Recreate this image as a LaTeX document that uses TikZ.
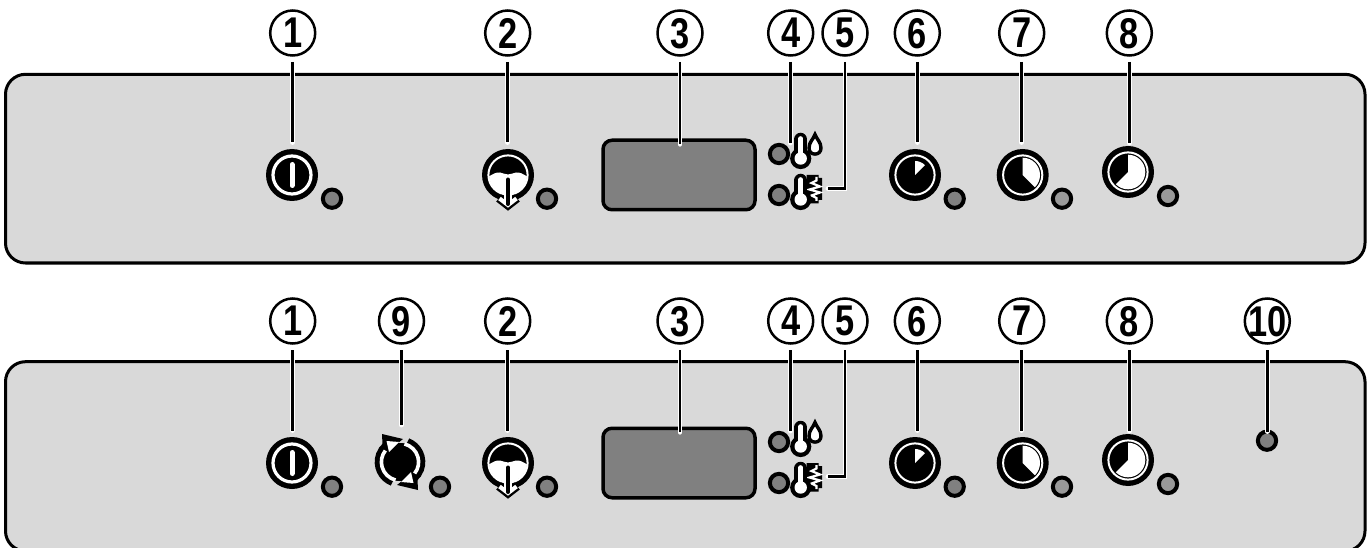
\documentclass[tikz,border=0pt]{standalone}
\usepackage{graphicx}
\usepackage{fontspec}
\setmainfont{Liberation Sans}
\usetikzlibrary{calc}
\definecolor{panelgray}{HTML}{D9D9D9}
\definecolor{ledgray}{HTML}{808080}
\definecolor{ledlight}{HTML}{999999}
\newcommand{\Num}[1]{\makebox[0pt][c]{\raisebox{-.5\height}[0pt][0pt]{\scalebox{.8}[1]{\fontsize{43}{43}\selectfont\bfseries #1}}}}
\tikzset{
  panel/.style={draw=black,line width=3pt,fill=panelgray,rounded corners=20pt},
  numcircle/.style={circle,draw=black,line width=2.5pt,fill=white,minimum size=45pt,inner sep=0pt,outer sep=0pt},
  btnbase/.style={circle,fill=black,minimum size=52pt,inner sep=0pt,outer sep=0pt},
  led/.style={circle,draw=black,line width=4pt,fill=ledgray,minimum size=18.3pt,inner sep=0pt,outer sep=0pt},
  ledl/.style={led,fill=ledlight},
  screen/.style={draw=black,line width=3.5pt,fill=ledgray,rounded corners=9pt,minimum width=152pt,minimum height=69.5pt,inner sep=0pt,outer sep=0pt},
  halo/.style={draw=white,line width=4.8pt,line cap=round},
  lead/.style={draw=black,line width=2.8pt},
  wring/.style={draw=white,line width=2pt},
}
% connector: white halo below a black line
\newcommand{\Lead}[2][6.5pt]{%
  \path[halo,shorten <=6.5pt,shorten >=#1] #2;
  \path[lead,shorten <=6.5pt,shorten >=#1] #2;}
\newcommand{\Wedge}[3]{% name, end angle, radius
  \begin{scope}[shift={(#1.center)}]
    \draw[wring] (0,0) circle (19.6pt);
    \fill[white] (0,0) -- (90:#3) arc[start angle=90,end angle=#2,radius=#3] -- cycle;
  \end{scope}}
\newcommand{\Power}[1]{%
  \begin{scope}[shift={(#1.center)}]
    \draw[white,line width=3.2pt] (0,0) circle (19pt);
    \draw[white,line width=5pt,line cap=round] (0,10.5) -- (0,-10.5);
  \end{scope}}
\newcommand{\Drain}[1]{%
  \begin{scope}[shift={(#1.center)}]
    \draw[wring] (0,0) circle (19.6pt);
    \begin{scope}
      \clip (0,0) circle (19pt);
      \fill[white] (-20,-2) .. controls (-15,1) and (-12,3) .. (-8,2.5) .. controls (-5,2) and (-3,.5) .. (0,.5) .. controls (3,.5) and (5,2) .. (8,2.5) .. controls (12,3) and (15,1) .. (20,-2) -- (20,-22) -- (-20,-22) -- cycle;
    \end{scope}
    \draw[black,line width=9pt,miter limit=10] (-9,-23) -- (0,-30) -- (9,-23);
    \draw[white,line width=4.2pt,miter limit=10] (-8.5,-23.5) -- (0,-30) -- (8.5,-23.5);
    \draw[white,line width=8.5pt] (0,-4) -- (0,-26);
    \draw[black,line width=4pt,line cap=round] (0,-4.5) -- (0,-29);
  \end{scope}}
\newcommand{\Thermo}[1]{%
  \begin{scope}[shift={(#1.center)}]
    \draw[black,line width=13.5pt,line cap=round] (0,0) -- (0,19);
    \fill[black] (0,0) circle (10.6pt);
    \draw[white,line width=4.6pt,line cap=round] (0,0) -- (0,20);
    \fill[white] (0,0) circle (6.2pt);
  \end{scope}}
\newcommand{\Drop}[1]{%
  \begin{scope}[shift={(#1.center)}]
    \draw[black,line width=3.4pt,fill=white,line join=miter,miter limit=10] (0,11) .. controls (1.5,6.5) and (6,3.5) .. (6,-2.5) .. controls (6,-6.5) and (3.2,-8.6) .. (0,-8.6) .. controls (-3.2,-8.6) and (-6,-6.5) .. (-6,-2.5) .. controls (-6,3.5) and (-1.5,6.5) .. (0,11) -- cycle;
  \end{scope}}
\newcommand{\Heater}[1]{%
  \begin{scope}[shift={(#1.center)}]
    \fill[black] (-8,14) -- (4,14) -- (4,11) -- (7.5,11) -- (7.5,-11) -- (4,-11) -- (4,-14.5) -- (-8,-14.5) -- cycle;
    \draw[white,line width=2.2pt,line join=miter] (2,12) -- (2,8.5) -- (-3,6) -- (5.5,2.5) -- (-5,-.5) -- (5.5,-3.5) -- (-3,-6.5) -- (2,-9) -- (2,-12);
  \end{scope}}
\newcommand{\Cycle}[1]{%
  \begin{scope}[shift={(#1.center)}]
    \fill[black] (0,0) circle (19pt);
    \draw[black,line width=11pt] (70:19.8) arc[start angle=70,end angle=-50,radius=19.8];
    \draw[black,line width=11pt] (250:19.8) arc[start angle=250,end angle=130,radius=19.8];
    \fill[black] (-18,28) -- (3,23) -- (-17,7) -- cycle;
    \fill[black] (18,-28) -- (-3,-23) -- (17,-7) -- cycle;
    \draw[white,line width=3.6pt] (76:18.6) arc[start angle=76,end angle=-38,radius=18.6];
    \draw[white,line width=3.6pt] (256:18.6) arc[start angle=256,end angle=142,radius=18.6];
    \fill[white] (-13.5,21) -- (-1,20) -- (-11,10) -- cycle;
    \fill[white] (13.5,-21) -- (1,-20) -- (11,-10) -- cycle;
  \end{scope}}
% parts shared by both panels
\newcommand{\SharedParts}{%
  \node[numcircle] (l1) at (292.7,-33) {\Num{1}};
  \node[numcircle] (l2) at (507.7,-33) {\Num{2}};
  \node[numcircle] (l3) at (680,-33) {\Num{3}};
  \node[numcircle] (l4) at (790.7,-33) {\Num{4}};
  \node[numcircle] (l5) at (845,-33) {\Num{5}};
  \node[numcircle] (l6) at (917.3,-33) {\Num{6}};
  \node[numcircle] (l7) at (1021.7,-33) {\Num{7}};
  \node[numcircle] (l8) at (1129.3,-33) {\Num{8}};
  \node[btnbase] (b1) at (292,-175) {};
  \node[btnbase] (b2) at (508,-175) {};
  \node[btnbase] (b6) at (915,-175) {};
  \node[btnbase] (b7) at (1022.7,-175) {};
  \node[btnbase] (b8) at (1128,-172) {};
  \Power{b1}\Drain{b2}
  \Wedge{b6}{45}{14pt}\Wedge{b7}{-45}{17.3pt}\Wedge{b8}{-135}{17.3pt}
  \node[led] (p1) at (332,-198.7) {};
  \node[led] (p2) at (547,-198.7) {};
  \node[led] (p6) at (954.7,-198.7) {};
  \node[ledl] (p7) at (1062,-198.7) {};
  \node[ledl] (p8) at (1168,-196) {};
  \node[screen] (d3) at (679,-175) {};
  \node[led] (p4) at (779,-154) {};
  \node[led] (p5) at (779,-195) {};
  \coordinate (t4) at (800.7,-158.5);
  \coordinate (t5) at (800.7,-199.5);
  \coordinate (w4) at (815,-145.5);
  \coordinate (h5) at (814.5,-189);
  \Heater{h5}\Thermo{t4}\Thermo{t5}\Drop{w4}
  \coordinate (c4) at (790.5,-143);
  \coordinate (c5) at (828,-188.7);
  \Lead{(l1.south) -- (l1.south |- b1.north)}
  \Lead{(l2.south) -- (l2.south |- b2.north)}
  \Lead[-4pt]{(l3.south) -- (l3.south |- d3.north)}
  \Lead[0pt]{(l4.south) -- (l4.south |- c4)}
  \Lead[0pt]{(l5.south) |- (c5)}
  \Lead{(l6.south) -- (l6.south |- b6.north)}
  \Lead{(l7.south) -- (l7.south |- b7.north)}
  \Lead[3pt]{(l8.south) -- (l8.south |- b8.north)}
}
\begin{document}
\begin{tikzpicture}[x=1pt,y=1pt]
  \clip (0,0) rectangle (1371,-548);
  \path[panel] (5.5,-74.3) rectangle (1365,-263);
  \path[panel] (5.5,-361.7) rectangle (1365,-551);
  \begin{scope}[name prefix=top-]
    \SharedParts
  \end{scope}
  \begin{scope}[name prefix=low-,shift={(0,-288)}]
    \SharedParts
    \node[numcircle] (l9) at (401.5,-33) {\Num{9}};
    \node[numcircle] (l10) at (1267.3,-33) {\Num{10}};
    \node[btnbase,minimum size=38pt] (b9) at (400,-174) {};
    \Cycle{b9}
    \node[led] (p9) at (440,-198.7) {};
    \node[led] (p10) at (1267,-152.7) {};
    \Lead[6pt]{(l9.south) -- (l9.south |- 0,-143)}
    \Lead[0pt]{(l10.south) -- (l10.south |- p10.north)}
  \end{scope}
\end{tikzpicture}
\end{document}
